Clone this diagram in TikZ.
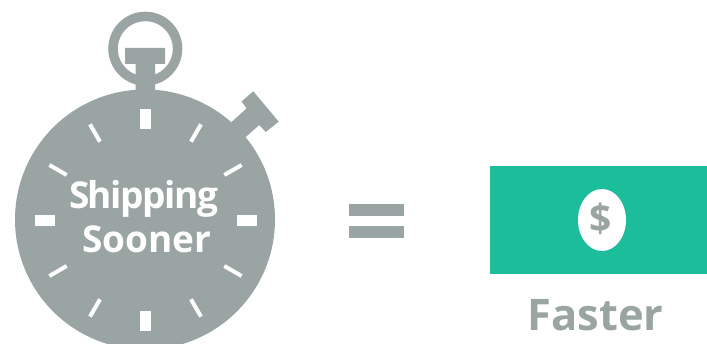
\documentclass[tikz,border=0pt]{standalone}
\usepackage{fontspec}
\setmainfont{Open Sans}
\newfontfamily\tightfont[LetterSpace=-4]{Open Sans}
\usetikzlibrary{positioning, shapes.geometric}
\definecolor{watchGray}{HTML}{9AA5A3}
\definecolor{billGreen}{HTML}{1BBD9B}

\begin{document}
\begin{tikzpicture}[
    x=1pt, y=-1pt,
    dial/.style={circle, fill=watchGray, inner sep=0pt, minimum size=260pt},
    ring/.style={circle, draw=watchGray, line width=9.5pt, inner sep=0pt, minimum size=64.5pt},
    part/.style={fill=watchGray},
    tickBig/.style={fill=white},
    tickSmall/.style={draw=white, line width=4pt},
    bill/.style={fill=billGreen, inner sep=0pt, minimum width=217pt, minimum height=108pt},
    coin/.style={ellipse, fill=white, inner sep=0pt, minimum width=48pt, minimum height=62pt},
    dialText/.style={text=white, anchor=base, inner sep=0pt},
    grayText/.style={text=watchGray, anchor=base, inner sep=0pt},
]
\useasboundingbox (0,0) rectangle (707,344);
\clip (0,0) rectangle (707,344);
% Stopwatch: ring, crown and side button
\node[ring] (ring) at (145.3,48.7) {};
\fill[part] (125,48) -- (165,48) -- (165,64) -- (155,64) -- (155,95) -- (135.5,95) -- (135.5,64) -- (125,64) -- cycle;
\fill[part] (225,128) -- (246.7,108.3) -- (241.5,101.5) -- (253.3,91.3) -- (278.7,121.7) -- (265.7,132) -- (259.3,125) -- (240,142) -- cycle;
\node[dial] (dial) at (145,219.5) {};
% Big ticks
\fill[tickBig] (140,109) rectangle (151,129);
\fill[tickBig] (140,311) rectangle (151,331);
\fill[tickBig] (35,215) rectangle (55,226);
\fill[tickBig] (237,215) rectangle (257,226);
% Small ticks
\foreach \ang in {30,60,120,150,210,240,300,330} {
    \draw[tickSmall] (145.5,220.5) ++(\ang:91 and -91) -- ++(\ang:20 and -20);
}
\node[dialText, font=\tightfont\fontsize{37}{37}\selectfont\bfseries] (shipping) at (143.5,209) {Shipping};
\node[dialText, font=\fontsize{37}{37}\selectfont\bfseries] (sooner) at (147,253) {Sooner};
% Equals sign
\fill[part] (349,204) rectangle (404,216);
\fill[part] (349,226) rectangle (404,238);
% Bill
\node[bill] (money) at (598.5,220) {};
\node[coin] (coin) at (602,220) {};
\node[grayText, font=\fontsize{39}{39}\selectfont\bfseries] (dollar) at (601,233) {\$};
\node[grayText, font=\fontsize{43.5}{43.5}\selectfont\bfseries] (faster) at (595.5,330.5) {Faster};
\end{tikzpicture}
\end{document}
